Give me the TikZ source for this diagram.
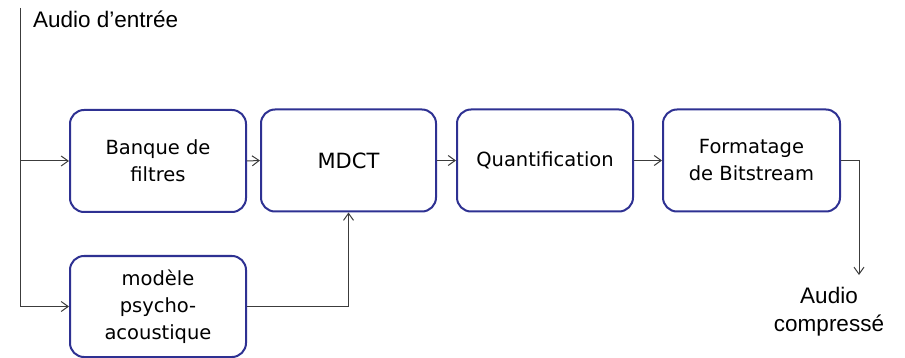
\documentclass[tikz,border=0pt]{standalone}
\usepackage{fontspec}
\setmainfont{Liberation Sans}
\newfontfamily\boxfont{DejaVu Sans}
\usetikzlibrary{arrows.meta}
\definecolor{boxblue}{RGB}{46,49,146}
\definecolor{wire}{RGB}{60,60,60}
\tikzset{
  block/.style={draw=boxblue, line width=2pt, rounded corners=14pt,
    minimum width=176pt, minimum height=102pt, align=center,
    font=\boxfont\fontsize{19.5}{27}\selectfont, inner sep=0pt},
  wireline/.style={draw=wire, line width=1pt},
  flow/.style={wireline, -{Straight Barb[length=7pt,width=10pt]}},
  label/.style={font=\fontsize{22.5}{28}\selectfont, inner sep=0pt, align=center}
}
\begin{document}
\begin{tikzpicture}[x=1pt, y=-1pt]
  \useasboundingbox (0,0) rectangle (905,358);

  % processing blocks
  \node[block] (banque) at (158,161) {Banque de\\filtres};
  \node[block, minimum width=175pt, font=\boxfont\fontsize{21}{27}\selectfont] (mdct) at (348.5,160.5) {MDCT};
  \node[block] (quant) at (545,160.5) {Quantification};
  \node[block, minimum width=177pt] (format) at (751.5,160.5) {Formatage\\de Bitstream};
  \node[block, minimum height=101pt] (psycho) at (158,306.5) {modèle\\psycho-\\acoustique};

  % input and output
  \coordinate (in) at (20,8);
  \node[label, anchor=base west] (inlabel) at (33,28) {Audio d’entrée};
  \coordinate (out) at (859,275);
  \node[label] (outlabel) at (829,312) {Audio\\compressé};

  % connectors
  \draw[flow] (in) |- (psycho.west);
  \draw[flow] (in |- banque.west) -- (banque.west);
  \draw[flow] (banque.east) -- (mdct.west);
  \draw[flow] (mdct.east) -- (quant.west);
  \draw[flow] (quant.east) -- (format.west);
  \draw[flow] (psycho.east) -| (mdct.south);
  \draw[flow] (format.east) -| (out);
\end{tikzpicture}
\end{document}
